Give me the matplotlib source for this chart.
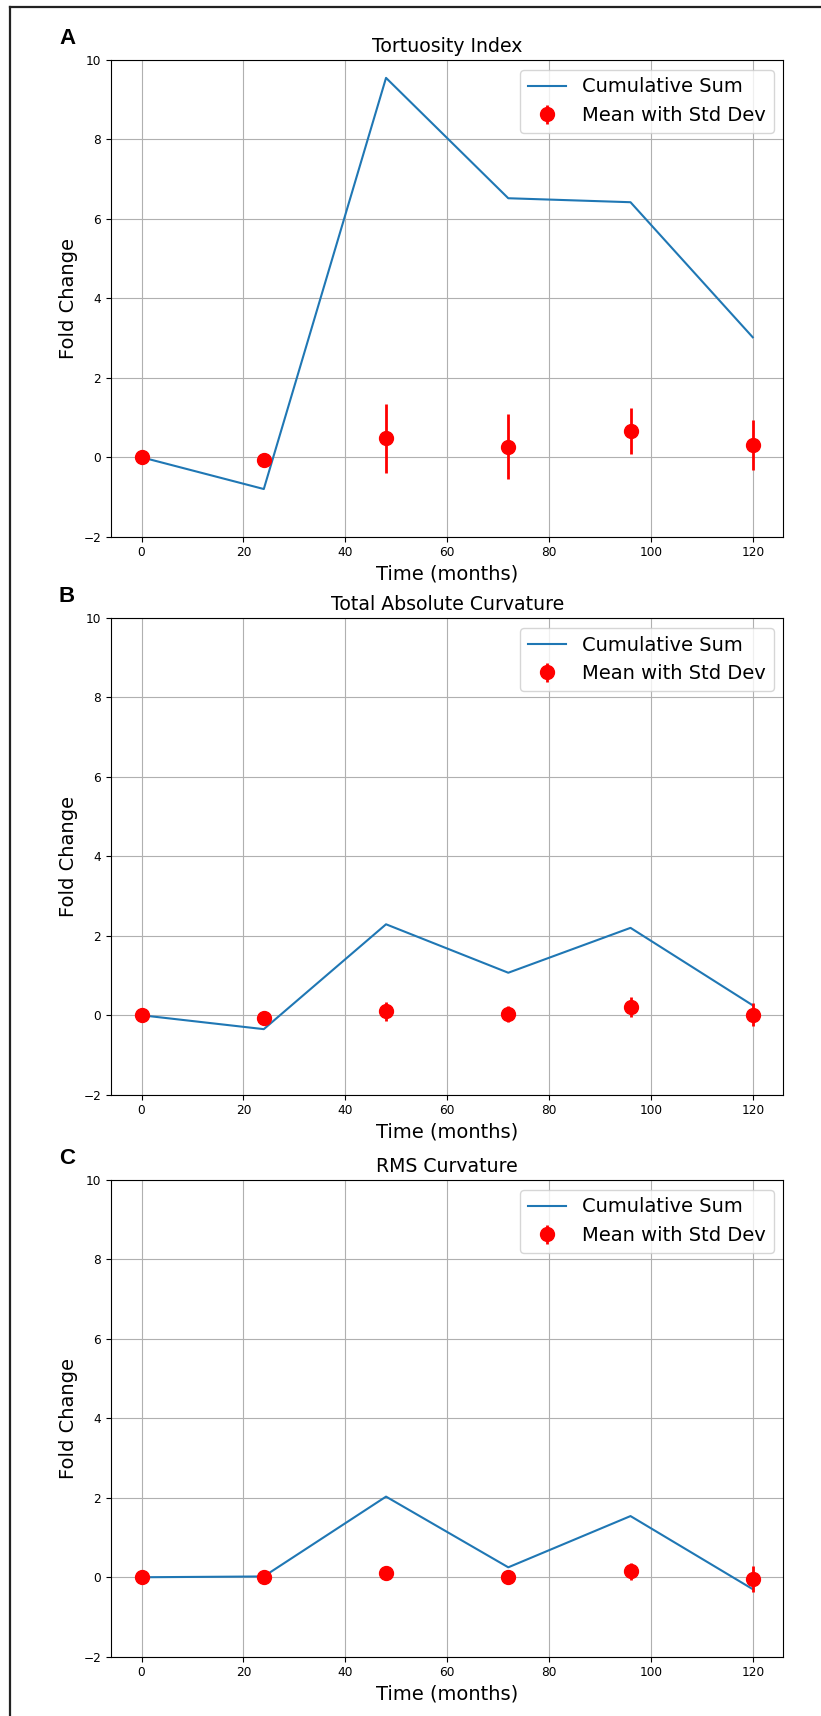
import numpy as np
import matplotlib
matplotlib.use("Agg")
import matplotlib.pyplot as plt
from matplotlib.lines import Line2D

months = [0, 24, 48, 72, 96, 120]

titles = ["Tortuosity Index", "Total Absolute Curvature", "RMS Curvature"]
letters = ["A", "B", "C"]

# cumulative sum lines
cum_tort = [0.0, -0.80, 9.55, 6.52, 6.42, 3.02]
cum_tac = [0.0, -0.35, 2.29, 1.07, 2.20, 0.25]
cum_rms = [0.0, 0.02, 2.03, 0.25, 1.54, -0.30]

# mean and std dev
mean_tort = [0.0, -0.07, 0.48, 0.27, 0.65, 0.30]
std_tort = [0.0, 0.05, 0.87, 0.83, 0.58, 0.63]
mean_tac = [0.0, -0.06, 0.10, 0.04, 0.21, 0.01]
std_tac = [0.0, 0.03, 0.24, 0.20, 0.25, 0.29]
mean_rms = [0.0, 0.0, 0.10, 0.0, 0.15, -0.04]
std_rms = [0.0, 0.0, 0.15, 0.05, 0.21, 0.33]

cums = [cum_tort, cum_tac, cum_rms]
means = [mean_tort, mean_tac, mean_rms]
stds = [std_tort, std_tac, std_rms]

fig = plt.figure(figsize=(8.21, 17.16), dpi=100)

W, H = 821, 1716
left, right = 111, 783.3
tops = [60, 618, 1180]
ax_h = 476.7

for i in range(3):
    top = tops[i]
    ax = fig.add_axes([left / W, (H - top - ax_h) / H, (right - left) / W, ax_h / H])
    ax.plot(months, cums[i], color="#1f77b4", lw=1.5, label="Cumulative Sum")
    ax.errorbar(months, means[i], yerr=stds[i], fmt="o", color="red",
                markersize=10, elinewidth=2, label="Mean with Std Dev")
    ax.set_ylim(-2, 10)
    ax.set_xlim(-6, 126)
    ax.set_yticks([-2, 0, 2, 4, 6, 8, 10])
    ax.set_xticks([0, 20, 40, 60, 80, 100, 120])
    ax.tick_params(labelsize=8.7)
    ax.grid(True)
    ax.set_title(titles[i], fontsize=13.6)
    ax.set_xlabel("Time (months)", fontsize=14)
    ax.set_ylabel("Fold Change", fontsize=14)
    ax.legend(loc="upper right", fontsize=14)
    fig.text(67 / W, 1 - (top - 22) / H, letters[i], fontsize=16,
             fontweight="bold", family="Liberation Sans", ha="center", va="center")

# outer frame (top and left edges visible)
fig.add_artist(Line2D([9.5 / W, 9.5 / W], [0, 1 - 7 / H], transform=fig.transFigure,
                      color="#222222", lw=1.6))
fig.add_artist(Line2D([9.5 / W, 1], [1 - 7 / H, 1 - 7 / H], transform=fig.transFigure,
                      color="#222222", lw=1.6))

fig.savefig("out.png", dpi=100)
